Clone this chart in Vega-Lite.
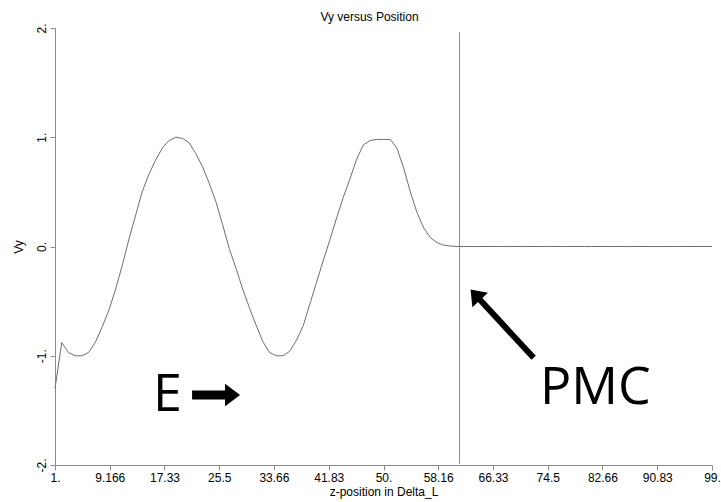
{
  "$schema": "https://vega.github.io/schema/vega-lite/v6.json",
  "width": 657,
  "height": 437,
  "autosize": "none",
  "padding": {"left": 55, "top": 28, "right": 9, "bottom": 37},
  "background": "white",
  "title": {"text": "Vy versus Position", "font": "Liberation Sans", "fontSize": 12, "fontWeight": "normal", "color": "black", "anchor": "middle", "offset": 8, "dx": -14, "dy": 9},
  "config": {
    "view": {"stroke": null},
    "axis": {"grid": false, "domainColor": "#8a8a8a", "tickColor": "#8a8a8a", "tickSize": 5, "labelFont": "Liberation Sans", "labelFontSize": 12, "labelColor": "black", "titleFont": "Liberation Sans", "titleFontSize": 12, "titleFontWeight": "normal", "titleColor": "black"}
  },
  "datasets": {
    "curve": [
      {"z": 1, "vy": -1.30}, {"z": 2, "vy": -0.88}, {"z": 3, "vy": -0.97}, {"z": 4, "vy": -1.00}, {"z": 5, "vy": -1.00},
      {"z": 6, "vy": -0.97}, {"z": 7, "vy": -0.88}, {"z": 8, "vy": -0.74}, {"z": 9, "vy": -0.59}, {"z": 10, "vy": -0.40},
      {"z": 11, "vy": -0.18}, {"z": 12, "vy": 0.06}, {"z": 13, "vy": 0.28}, {"z": 14, "vy": 0.50}, {"z": 15, "vy": 0.66},
      {"z": 16, "vy": 0.79}, {"z": 17, "vy": 0.90}, {"z": 18, "vy": 0.97}, {"z": 19, "vy": 1.00}, {"z": 20, "vy": 0.99},
      {"z": 21, "vy": 0.95}, {"z": 22, "vy": 0.85}, {"z": 23, "vy": 0.73}, {"z": 24, "vy": 0.58}, {"z": 25, "vy": 0.41},
      {"z": 26, "vy": 0.20}, {"z": 27, "vy": -0.02}, {"z": 28, "vy": -0.20}, {"z": 29, "vy": -0.39}, {"z": 30, "vy": -0.56},
      {"z": 31, "vy": -0.72}, {"z": 32, "vy": -0.87}, {"z": 33, "vy": -0.97}, {"z": 34, "vy": -1.00}, {"z": 35, "vy": -1.00},
      {"z": 36, "vy": -0.96}, {"z": 37, "vy": -0.86}, {"z": 38, "vy": -0.73}, {"z": 39, "vy": -0.53}, {"z": 40, "vy": -0.33},
      {"z": 41, "vy": -0.13}, {"z": 42, "vy": 0.06}, {"z": 43, "vy": 0.26}, {"z": 44, "vy": 0.45}, {"z": 45, "vy": 0.62},
      {"z": 46, "vy": 0.80}, {"z": 47, "vy": 0.93}, {"z": 48, "vy": 0.97}, {"z": 49, "vy": 0.98}, {"z": 50, "vy": 0.98},
      {"z": 51, "vy": 0.98}, {"z": 52, "vy": 0.90}, {"z": 53, "vy": 0.72}, {"z": 54, "vy": 0.50}, {"z": 55, "vy": 0.31},
      {"z": 56, "vy": 0.17}, {"z": 57, "vy": 0.08}, {"z": 58, "vy": 0.035}, {"z": 59, "vy": 0.012}, {"z": 60, "vy": 0.004},
      {"z": 61, "vy": 0}, {"z": 62, "vy": 0}, {"z": 63, "vy": 0}, {"z": 64, "vy": 0}, {"z": 65, "vy": 0},
      {"z": 66, "vy": 0}, {"z": 67, "vy": 0}, {"z": 68, "vy": 0}, {"z": 69, "vy": 0}, {"z": 70, "vy": 0},
      {"z": 71, "vy": 0}, {"z": 72, "vy": 0}, {"z": 73, "vy": 0}, {"z": 74, "vy": 0}, {"z": 75, "vy": 0},
      {"z": 76, "vy": 0}, {"z": 77, "vy": 0}, {"z": 78, "vy": 0}, {"z": 79, "vy": 0}, {"z": 80, "vy": 0},
      {"z": 81, "vy": 0}, {"z": 82, "vy": 0}, {"z": 83, "vy": 0}, {"z": 84, "vy": 0}, {"z": 85, "vy": 0},
      {"z": 86, "vy": 0}, {"z": 87, "vy": 0}, {"z": 88, "vy": 0}, {"z": 89, "vy": 0}, {"z": 90, "vy": 0},
      {"z": 91, "vy": 0}, {"z": 92, "vy": 0}, {"z": 93, "vy": 0}, {"z": 94, "vy": 0}, {"z": 95, "vy": 0},
      {"z": 96, "vy": 0}, {"z": 97, "vy": 0}, {"z": 98, "vy": 0}, {"z": 99, "vy": 0}
    ],
    "marker": [{"z": 61.34, "top": 1.96, "bottom": -1.99}],
    "labels": [{"label": "E", "z": 17.79, "vy": -1.506}, {"label": "PMC", "z": 81.6, "vy": -1.445}],
    "arrows": [
      {"name": "E", "z": 21.45, "vy": -1.36, "z2": 27.49, "vy2": -1.36},
      {"name": "PMC", "z": 72.39, "vy": -1.018, "z2": 63.70, "vy2": -0.442}
    ]
  },
  "layer": [
    {
      "data": {"name": "curve"},
      "mark": {"type": "line", "color": "#6e6e6e", "strokeWidth": 1},
      "encoding": {
        "x": {"field": "z", "type": "quantitative", "title": "z-position in Delta_L",
          "scale": {"domain": [1, 99], "nice": false, "zero": false},
          "axis": {"values": [1, 9.166, 17.33, 25.5, 33.66, 41.83, 50, 58.16, 66.33, 74.5, 82.66, 90.83, 99],
            "labelExpr": "(datum.value % 1 == 0) ? datum.value + '.' : '' + datum.value",
            "labelPadding": 2, "titlePadding": 3, "labelOverlap": false, "labelBound": false, "labelFlush": false}},
        "y": {"field": "vy", "type": "quantitative", "title": "Vy",
          "scale": {"domain": [-2, 2], "nice": false, "zero": false},
          "axis": {"values": [-2, -1, 0, 1, 2], "labelExpr": "datum.value + '.'", "labelAngle": 270, "labelPadding": 2, "titlePadding": 10}}
      }
    },
    {
      "data": {"name": "marker"},
      "mark": {"type": "rule", "color": "#8a8aa8", "strokeWidth": 1},
      "encoding": {
        "x": {"field": "z", "type": "quantitative"},
        "y": {"field": "top", "type": "quantitative"},
        "y2": {"field": "bottom"}
      }
    },
    {
      "data": {"name": "labels"},
      "mark": {"type": "text", "font": "Open Sans", "fontSize": 52, "color": "black", "align": "center", "baseline": "alphabetic"},
      "encoding": {
        "x": {"field": "z", "type": "quantitative"},
        "y": {"field": "vy", "type": "quantitative"},
        "text": {"field": "label"}
      }
    },
    {
      "data": {"name": "arrows"},
      "transform": [{"filter": "datum.name == 'E'"}],
      "mark": {"type": "rule", "color": "black", "strokeWidth": 9},
      "encoding": {
        "x": {"field": "z", "type": "quantitative"},
        "y": {"field": "vy", "type": "quantitative"},
        "x2": {"field": "z2"},
        "y2": {"field": "vy2"}
      }
    },
    {
      "data": {"name": "arrows"},
      "transform": [{"filter": "datum.name == 'PMC'"}],
      "mark": {"type": "rule", "color": "black", "strokeWidth": 6},
      "encoding": {
        "x": {"field": "z", "type": "quantitative"},
        "y": {"field": "vy", "type": "quantitative"},
        "x2": {"field": "z2"},
        "y2": {"field": "vy2"}
      }
    },
    {
      "data": {"name": "arrows"},
      "transform": [{"filter": "datum.name == 'E'"}],
      "mark": {"type": "point", "filled": true, "color": "black", "opacity": 1, "shape": "M-0.5,-0.75L0.5,0L-0.5,0.75Z", "size": 900, "angle": 0},
      "encoding": {
        "x": {"field": "z2", "type": "quantitative"},
        "y": {"field": "vy2", "type": "quantitative"}
      }
    },
    {
      "data": {"name": "arrows"},
      "transform": [{"filter": "datum.name == 'PMC'"}],
      "mark": {"type": "point", "filled": true, "color": "black", "opacity": 1, "shape": "M-0.5,-0.75L0.5,0L-0.5,0.75Z", "size": 800, "angle": 227},
      "encoding": {
        "x": {"field": "z2", "type": "quantitative"},
        "y": {"field": "vy2", "type": "quantitative"}
      }
    }
  ]
}
